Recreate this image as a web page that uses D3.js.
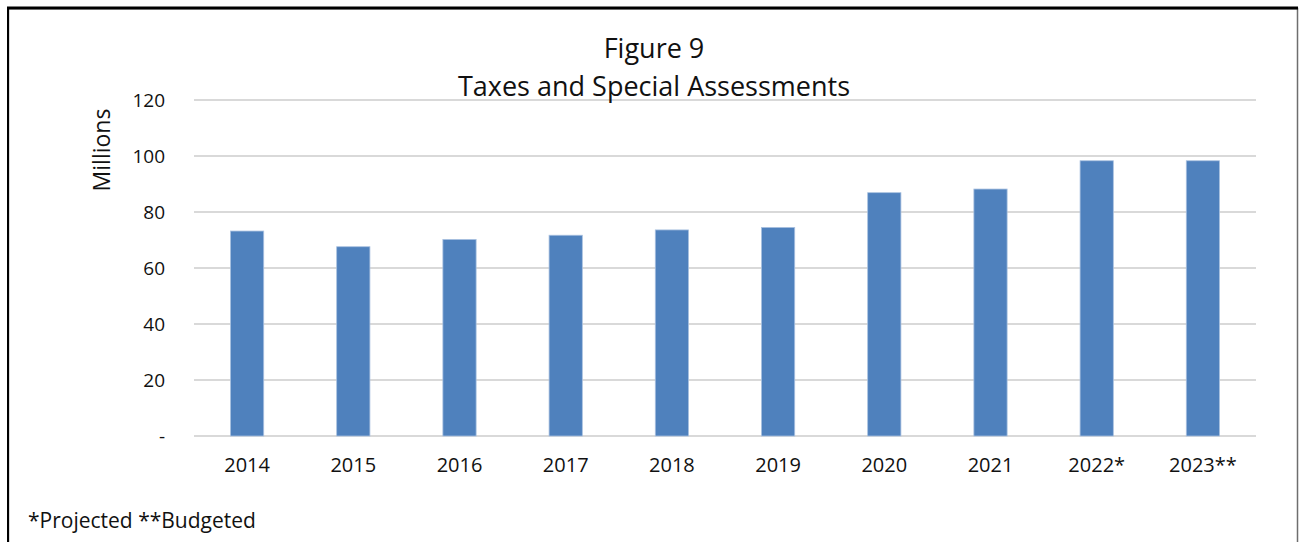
<html>
<head>
<style>
  body { margin: 0; background: #fff; }
  text { font-family: "Open Sans", "Noto Sans", sans-serif; fill: #111; }
</style>
</head>
<body>
<div id="chart"></div>
<script src="https://cdn.jsdelivr.net/npm/d3@7"></script>
<script>
const years = ['2014', '2015', '2016', '2017', '2018', '2019', '2020', '2021', '2022*', '2023**'];
const values = [73.2, 67.6, 70.2, 71.7, 73.6, 74.5, 86.9, 88.2, 98.3, 98.3];
const yTicks = [0, 20, 40, 60, 80, 100, 120];

const W = 1299, H = 542;
const margin = { top: 100, right: 43, bottom: 106, left: 194 };
const width = W - margin.left - margin.right,
      height = H - margin.top - margin.bottom;

const svg = d3.select('#chart').append('svg')
    .attr('width', W).attr('height', H);

// frame
svg.append('rect').attr('x', 8.5).attr('y', 8.5).attr('width', 1289).attr('height', 560)
    .attr('fill', 'none').attr('stroke', '#6e6e6e').attr('stroke-width', 1.5);
svg.append('line').attr('x1', 7).attr('x2', 1298).attr('y1', 8).attr('y2', 8)
    .attr('stroke', '#000').attr('stroke-width', 3);
svg.append('line').attr('x1', 8).attr('x2', 8).attr('y1', 7).attr('y2', 542)
    .attr('stroke', '#000').attr('stroke-width', 2);

const g = svg.append('g').attr('transform', `translate(${margin.left},${margin.top})`);

const x = d3.scaleBand().domain(years).range([0, width]).paddingInner(0.687).paddingOuter(0.3435);
const y = d3.scaleLinear().domain([0, 120]).range([height, 0]);

// gridlines
g.append('g').selectAll('line').data(yTicks).join('line')
    .attr('x1', 0).attr('x2', width)
    .attr('y1', d => y(d)).attr('y2', d => y(d))
    .attr('stroke', '#d9d9d9').attr('stroke-width', 2);

// bars
g.append('g').selectAll('rect').data(values).join('rect')
    .attr('x', (d, i) => x(years[i]))
    .attr('y', d => y(d))
    .attr('width', x.bandwidth())
    .attr('height', d => y(0) - y(d))
    .attr('fill', '#4f81bd')
    .attr('stroke', '#a9c1e0').attr('stroke-width', 0.8);

// y axis
const yAxis = g.append('g')
    .call(d3.axisLeft(y).tickValues(yTicks).tickSize(0).tickPadding(29)
        .tickFormat(d => d === 0 ? '-' : d));
yAxis.select('.domain').remove();
yAxis.selectAll('text').style('font-size', '19px').style('font-family', '"Open Sans", sans-serif').attr('fill', '#111');

// x axis
const xAxis = g.append('g').attr('transform', `translate(0,${height})`)
    .call(d3.axisBottom(x).tickSize(0).tickPadding(22));
xAxis.select('.domain').remove();
xAxis.selectAll('text').style('font-size', '20px').style('font-family', '"Open Sans", sans-serif').attr('fill', '#111');

// axis title
svg.append('text')
    .attr('transform', 'translate(110,150) rotate(-90)')
    .attr('text-anchor', 'middle')
    .style('font-size', '23px')
    .text('Millions');

// title
svg.append('text').attr('x', 654).attr('y', 58).attr('text-anchor', 'middle')
    .style('font-size', '27px').text('Figure 9');
svg.append('text').attr('x', 654).attr('y', 96).attr('text-anchor', 'middle')
    .style('font-size', '27px').text('Taxes and Special Assessments');

// footnote
svg.append('text').attr('x', 28).attr('y', 528)
    .style('font-size', '21px').text('*Projected **Budgeted');
</script>
</body>
</html>
